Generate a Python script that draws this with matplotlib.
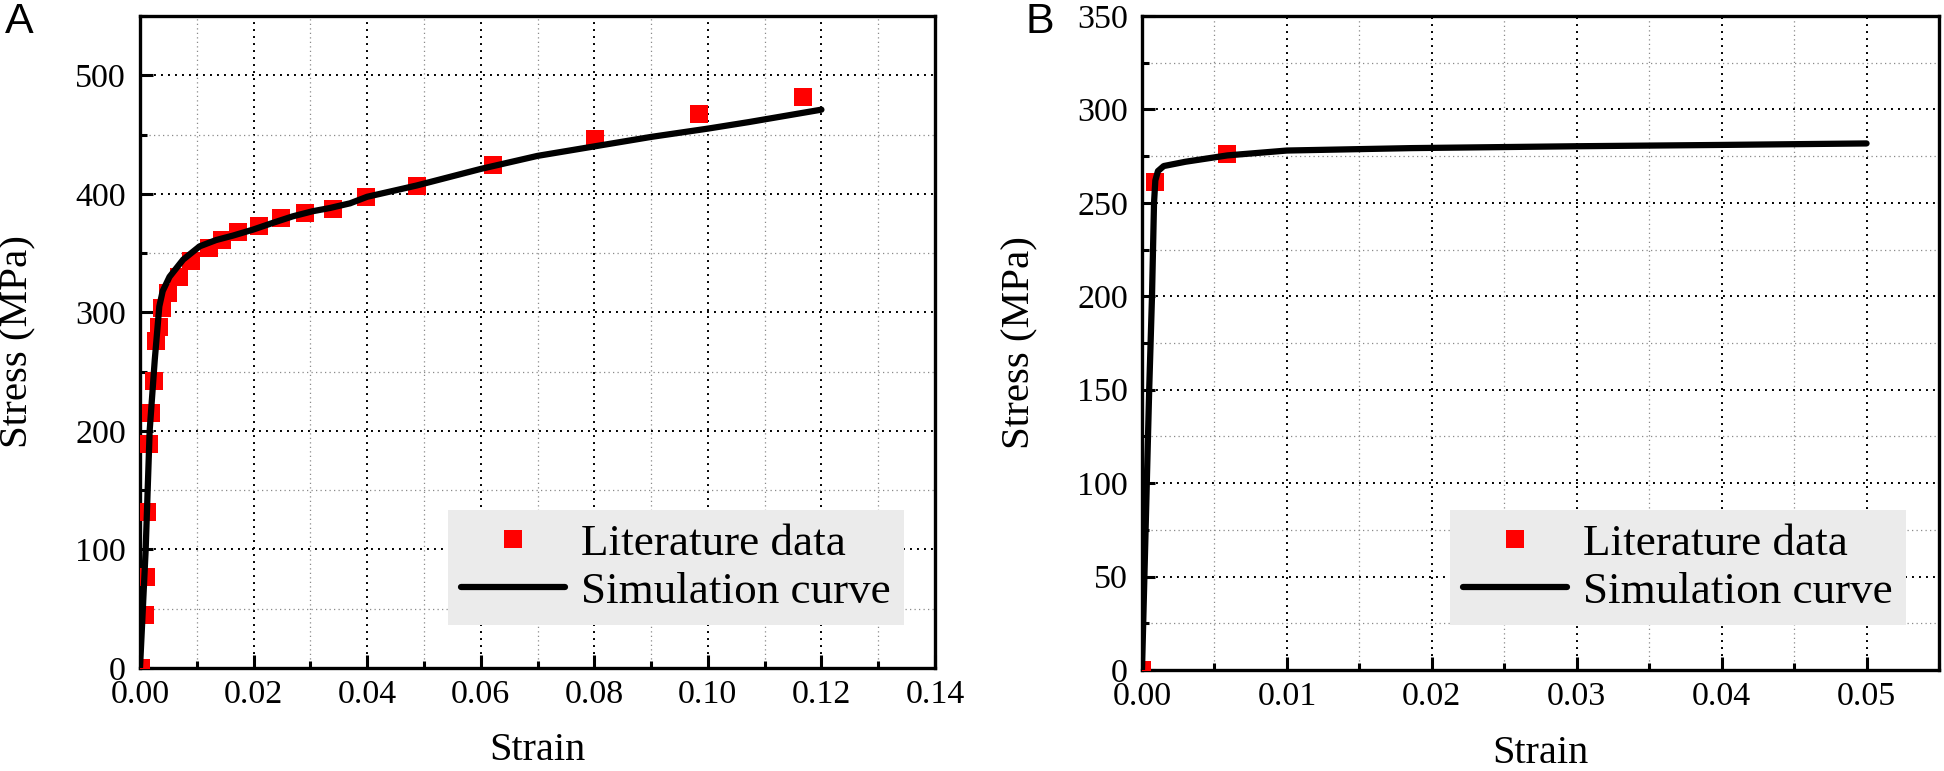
import matplotlib
matplotlib.use("Agg")
import matplotlib.pyplot as plt
from matplotlib.ticker import MultipleLocator, FormatStrFormatter

plt.rcParams['font.family'] = ['Liberation Serif', 'DejaVu Serif']

# ---------------- Data: panel A ----------------
a_lit_strain = [0.0002, 0.0009, 0.0010, 0.0013, 0.0016, 0.0020, 0.0024, 0.0028, 0.0034,
                0.0038, 0.0049, 0.0068, 0.0089, 0.0121, 0.0144, 0.0172, 0.0209, 0.0249,
                0.0291, 0.0339, 0.0398, 0.0487, 0.0622, 0.0801, 0.0984, 0.1168]
a_lit_stress = [0, 45, 77, 132, 189, 215, 242, 276, 288,
                304, 316, 330, 343, 354, 361, 368, 373, 380,
                384, 387, 397, 407, 424, 446, 467, 482]
a_sim_strain = [0.0, 0.0010, 0.0017, 0.0026, 0.0034, 0.0040, 0.0052, 0.0076, 0.0105,
                0.0134, 0.0164, 0.0199, 0.0234, 0.0269, 0.0304, 0.0334, 0.0370, 0.0400,
                0.0487, 0.0600, 0.0700, 0.0800, 0.0900, 0.1000, 0.1072, 0.1200]
a_sim_stress = [0, 100, 200, 260, 305, 318, 330, 344.5, 355.7,
                361, 364.8, 369.8, 375.5, 381, 385.3, 388, 392, 397.5,
                407, 421, 432, 440, 448, 455, 460.5, 471]

# ---------------- Data: panel B ----------------
b_lit_strain = [0.0, 0.0009, 0.0059]
b_lit_stress = [0, 261, 276.4]
b_sim_strain = [0.0, 0.0005, 0.00069, 0.00083, 0.00092, 0.0011, 0.0015, 0.0030, 0.0059,
                0.0100, 0.0186, 0.0300, 0.0400, 0.0500]
b_sim_stress = [0, 151, 200, 250, 262, 267, 269.7, 272, 275.4,
                278, 279.3, 280.3, 281, 281.8]

lit_label = "Literature data"
sim_label = "Simulation curve"

fig = plt.figure(figsize=(19.44, 7.71), dpi=100)
axA = fig.add_axes([140/1944, 1-668/771, 795/1944, 652/771])
axB = fig.add_axes([1142/1944, 1-670/771, 797/1944, 654/771])


def style(ax, xmaj, xmin, ymaj, ymin, xlim, ylim, xfmt, leg_center):
    ax.set_xlim(*xlim)
    ax.set_ylim(*ylim)
    ax.xaxis.set_major_locator(MultipleLocator(xmaj))
    ax.xaxis.set_minor_locator(MultipleLocator(xmin))
    ax.yaxis.set_major_locator(MultipleLocator(ymaj))
    ax.yaxis.set_minor_locator(MultipleLocator(ymin))
    ax.xaxis.set_major_formatter(FormatStrFormatter(xfmt))
    ax.set_axisbelow(True)
    ax.grid(which='major', color='black', linestyle=(0, (1, 2.6)), linewidth=1.4)
    ax.grid(which='minor', color='#8a8a8a', linestyle=(0, (1, 2.6)), linewidth=0.9)
    for s in ax.spines.values():
        s.set_linewidth(2.4)
    ax.tick_params(which='both', direction='in', top=False, right=False, width=2.2)
    ax.tick_params(which='major', length=9.5, labelsize=24.5)
    ax.tick_params(axis='x', which='major', pad=8)
    ax.tick_params(axis='y', which='major', pad=10)
    ax.tick_params(which='minor', length=5)
    ax.set_xlabel("Strain", fontsize=29, va='center')
    ax.set_ylabel("Stress (MPa)", fontsize=29.5, va='center')
    ax.xaxis.set_label_coords(0.5, -0.127)
    ax.yaxis.set_label_coords(-0.153, 0.5)
    leg = ax.legend(loc='center', bbox_to_anchor=leg_center, fontsize=32.5,
                    frameon=True, fancybox=False, framealpha=1.0,
                    facecolor='#ebebeb', edgecolor='none',
                    borderpad=0.3, labelspacing=0.16, handlelength=2.3,
                    handletextpad=0.35, borderaxespad=0)
    leg.set_zorder(5)


axA.plot(a_lit_strain, a_lit_stress, linestyle='none', marker='s', markersize=13,
         color='#ff0000', markeredgewidth=0, label=lit_label, zorder=3)
axA.plot(a_sim_strain, a_sim_stress, color='black', linewidth=4.5,
         solid_joinstyle='round', solid_capstyle='round', label=sim_label, zorder=4)
style(axA, 0.02, 0.01, 100, 50, (0, 0.14), (0, 550), '%.2f', (0.674, 0.154))

axB.plot(b_lit_strain, b_lit_stress, linestyle='none', marker='s', markersize=13,
         color='#ff0000', markeredgewidth=0, label=lit_label, zorder=3)
axB.plot(b_sim_strain, b_sim_stress, color='black', linewidth=4.5,
         solid_joinstyle='round', solid_capstyle='round', label=sim_label, zorder=4)
style(axB, 0.01, 0.005, 50, 25, (0, 0.055), (0, 350), '%.2f', (0.6725, 0.1565))

fig.text(19/1944, 1-22/771, "A", ha='center', va='center', fontsize=31,
         family=['Liberation Sans', 'DejaVu Sans'])
fig.text(1040/1944, 1-22/771, "B", ha='center', va='center', fontsize=31,
         family=['Liberation Sans', 'DejaVu Sans'])

fig.savefig("out.png", dpi=100)
